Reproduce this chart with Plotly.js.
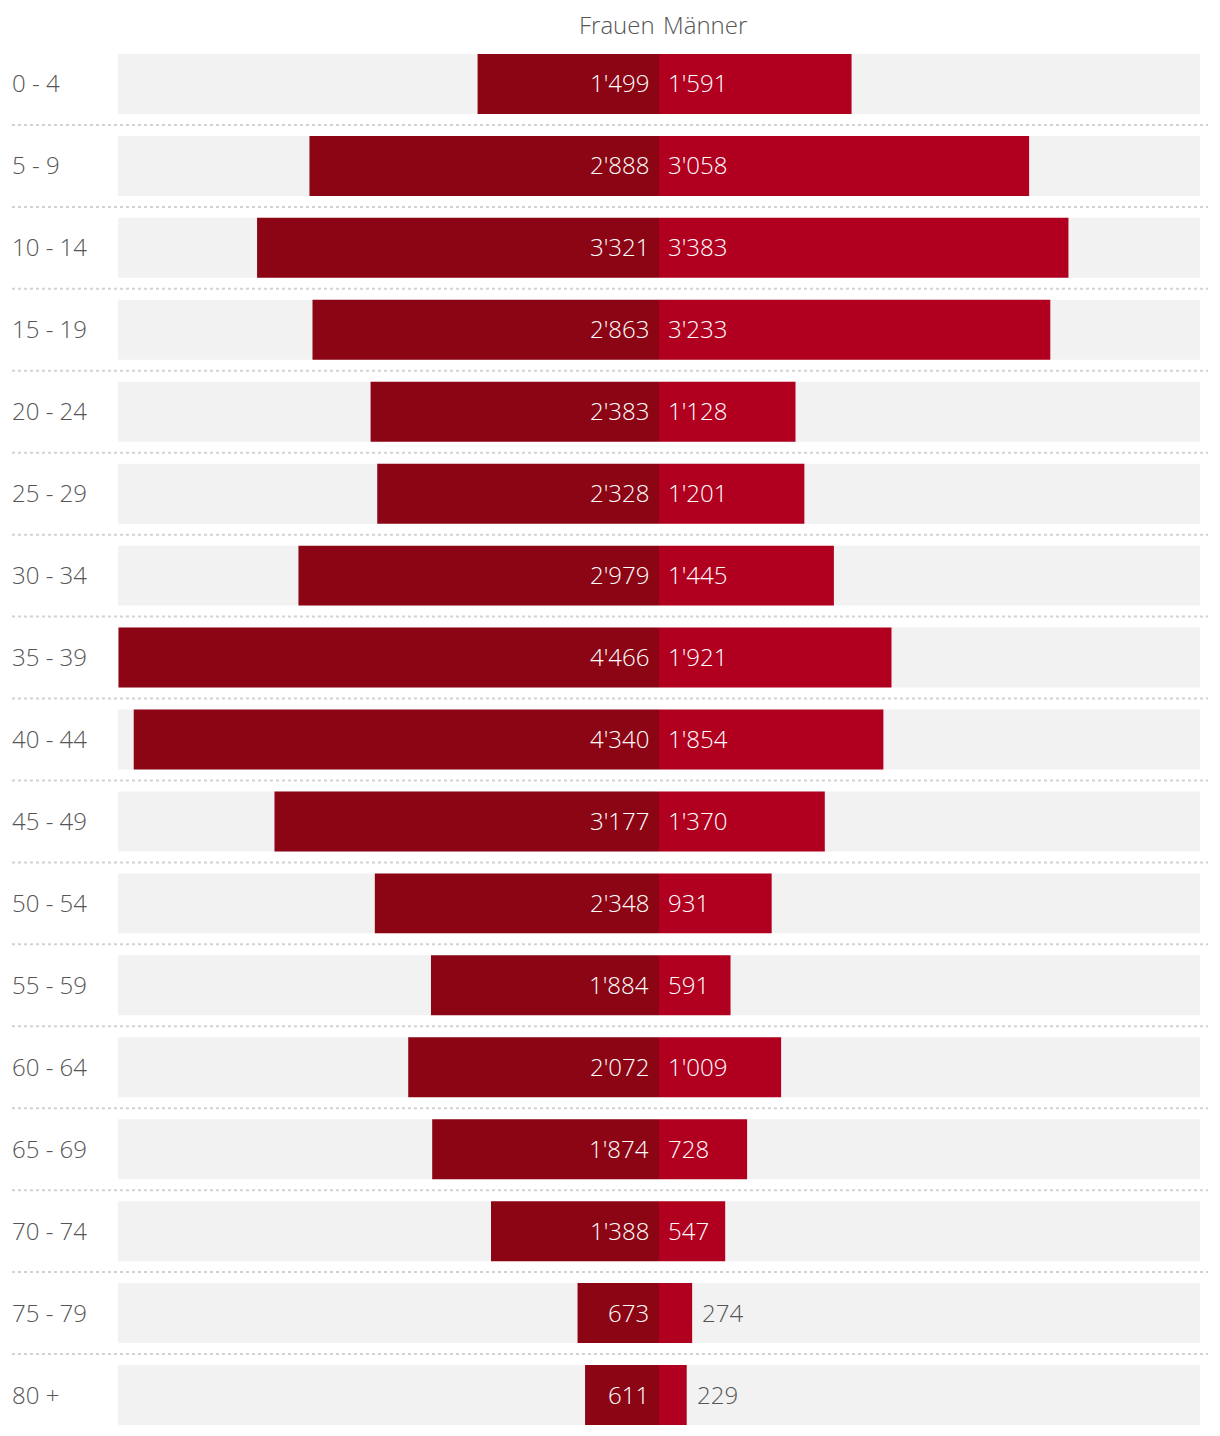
<!DOCTYPE html>
<html lang="de">

<head>
    <meta charset="UTF-8">
    <title>Bevölkerung nach Alter und Geschlecht</title>
    <script src="https://cdn.plot.ly/plotly-3.0.1.min.js"></script>
    <style>
        body {
            margin: 0;
            padding: 0;
            background: white;
        }

        #plot {
            width: 1220px;
            height: 1436px;
        }
    </style>
</head>

<body>
    <div id="plot"></div>

    <script>
        const ageGroups = ['0 - 4', '5 - 9', '10 - 14', '15 - 19', '20 - 24', '25 - 29', '30 - 34', '35 - 39',
            '40 - 44', '45 - 49', '50 - 54', '55 - 59', '60 - 64', '65 - 69', '70 - 74', '75 - 79', '80 +'];
        const frauen = [1499, 2888, 3321, 2863, 2383, 2328, 2979, 4466, 4340, 3177, 2348, 1884, 2072, 1874, 1388, 673, 611];
        const maenner = [1591, 3058, 3383, 3233, 1128, 1201, 1445, 1921, 1854, 1370, 931, 591, 1009, 728, 547, 274, 229];

        const FONT = '"Open Sans", sans-serif';
        const GREY_TEXT = '#555555';
        const XMAX = 4470;

        // 1'234 style
        function fmt(v) {
            return String(v).replace(/\B(?=(\d{3})+(?!\d))/g, "'");
        }

        function txtFont(color) {
            return {family: FONT, size: 24, color: color, weight: 300};
        }

        const bandTrace = {
            type: 'bar',
            orientation: 'h',
            y: ageGroups,
            x: ageGroups.map(() => 2 * XMAX),
            base: ageGroups.map(() => -XMAX),
            width: 0.732,
            marker: {color: '#f2f2f2'},
            hoverinfo: 'skip',
            showlegend: false
        };

        const frauenTrace = {
            type: 'bar',
            orientation: 'h',
            name: 'Frauen',
            y: ageGroups,
            x: frauen.map(v => -v),
            width: 0.732,
            marker: {color: '#8c0514'},
            customdata: frauen,
            hovertemplate: '%{y}: %{customdata}<extra>Frauen</extra>',
            showlegend: false
        };

        const maennerTrace = {
            type: 'bar',
            orientation: 'h',
            name: 'Männer',
            y: ageGroups,
            x: maenner,
            width: 0.732,
            marker: {color: '#b1001f'},
            hovertemplate: '%{y}: %{x}<extra>Männer</extra>',
            showlegend: false
        };

        const annotations = [];
        const shapes = [];

        ageGroups.forEach((g, i) => {
            // age label, left aligned at page edge
            annotations.push({
                xref: 'paper', yref: 'y',
                x: 0, y: g,
                xanchor: 'left', xshift: -108, yshift: 1,
                text: g, showarrow: false,
                font: txtFont(GREY_TEXT)
            });

            annotations.push({
                x: 0, y: g,
                xanchor: 'right', xshift: -8, yshift: 1,
                text: fmt(frauen[i]), showarrow: false,
                font: txtFont('white')
            });

            const small = maenner[i] < 400;
            annotations.push({
                x: small ? maenner[i] : 0, y: g,
                xanchor: 'left', xshift: small ? 8 : 7, yshift: 1,
                text: fmt(maenner[i]), showarrow: false,
                font: txtFont(small ? GREY_TEXT : 'white')
            });

            if (i < ageGroups.length - 1) {
                shapes.push({
                    type: 'line',
                    xref: 'paper', yref: 'y',
                    x0: -0.098, x1: 1.0074,
                    y0: i + 0.5, y1: i + 0.5,
                    line: {color: '#d2d2d2', width: 2, dash: 'dot'}
                });
            }
        });

        annotations.push({
            x: 0, xref: 'x', y: 1, yref: 'paper',
            xanchor: 'right', yanchor: 'bottom', xshift: -2,
            text: 'Frauen', showarrow: false,
            font: txtFont(GREY_TEXT)
        });
        annotations.push({
            x: 0, xref: 'x', y: 1, yref: 'paper',
            xanchor: 'left', yanchor: 'bottom', xshift: 2,
            text: 'Männer', showarrow: false,
            font: txtFont(GREY_TEXT)
        });

        const layout = {
            barmode: 'overlay',
            margin: {t: 43, r: 20, b: 0, l: 118},
            paper_bgcolor: 'white',
            plot_bgcolor: 'white',
            xaxis: {
                range: [-XMAX, XMAX],
                showgrid: false,
                zeroline: false,
                showticklabels: false,
                fixedrange: true
            },
            yaxis: {
                type: 'category',
                categoryarray: ageGroups,
                range: [ageGroups.length - 0.5, -0.5],
                showgrid: false,
                zeroline: false,
                showticklabels: false,
                fixedrange: true
            },
            annotations: annotations,
            shapes: shapes,
            font: {family: FONT, size: 24, color: GREY_TEXT},
            hovermode: 'closest'
        };

        Plotly.newPlot('plot', [bandTrace, frauenTrace, maennerTrace], layout, {
            displayModeBar: false
        });
    </script>
</body>

</html>
